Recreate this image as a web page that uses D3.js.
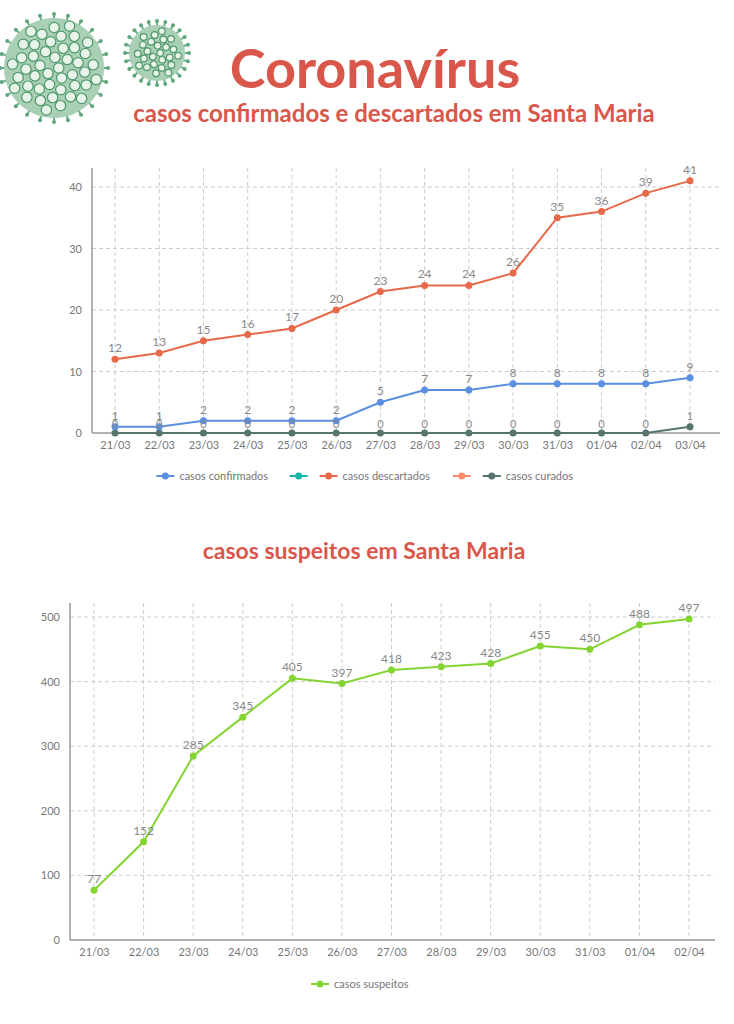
<!DOCTYPE html>
<html lang="pt">
<head>
<meta charset="UTF-8">
<title>Coronavírus Santa Maria</title>
<style>
  body { margin: 0; background: #fff; }
  text { font-family: Lato, "Open Sans", sans-serif; }
</style>
</head>
<body>
<script src="https://d3js.org/d3.v7.min.js"></script>
<div id="svg"></div>
<script>
// dados
const dias1 = ["21/03","22/03","23/03","24/03","25/03","26/03","27/03","28/03","29/03","30/03","31/03","01/04","02/04","03/04"];
const confirmados = [1,1,2,2,2,2,5,7,7,8,8,8,8,9];
const descartados = [12,13,15,16,17,20,23,24,24,26,35,36,39,41];
const curados = [0,0,0,0,0,0,0,0,0,0,0,0,0,1];
const ticks1 = [0,10,20,30,40];

const dias2 = ["21/03","22/03","23/03","24/03","25/03","26/03","27/03","28/03","29/03","30/03","31/03","01/04","02/04"];
const suspeitos = [77,152,285,345,405,397,418,423,428,455,450,488,497];
const ticks2 = [0,100,200,300,400,500];

const width = 734, height = 1024;
const svg = d3.select("#svg").append("svg").attr("width", width).attr("height", height);

// virus decorativos
function virus(cx, cy, r) {
  const g = svg.append("g").attr("transform", `translate(${cx},${cy})`);
  for (let a = 0; a < 360; a += 15) {
    const t = a * Math.PI / 180;
    g.append("line").attr("x1", 0).attr("y1", 0)
      .attr("x2", Math.cos(t) * (r + 4)).attr("y2", Math.sin(t) * (r + 4))
      .attr("stroke", "#6aae86").attr("stroke-width", 2);
    g.append("circle").attr("cx", Math.cos(t) * (r + 4)).attr("cy", Math.sin(t) * (r + 4))
      .attr("r", 2).attr("fill", "#5fa67c");
  }
  g.append("circle").attr("r", r).attr("fill", "#a9cfb4");
  const n = Math.round(r * 0.9);
  for (let i = 0; i < n; i++) {
    const rr = Math.sqrt((i + 0.5) / n) * (r - 5);
    const t = i * 2.39996;
    g.append("circle").attr("cx", Math.cos(t) * rr).attr("cy", Math.sin(t) * rr)
      .attr("r", r / 12 + 1).attr("fill", "#e8f3ea").attr("stroke", "#4f9a6c").attr("stroke-width", 1.2);
  }
}
virus(54, 68, 50);
virus(157, 53, 28);

svg.append("text").attr("x", 375).attr("y", 88).attr("text-anchor", "middle")
  .style("font-size", "54px").style("font-weight", "bold").attr("fill", "#d9574a").text("Coronavírus");
svg.append("text").attr("x", 394).attr("y", 122).attr("text-anchor", "middle")
  .style("font-size", "24px").style("font-weight", "bold").attr("fill", "#d9574a").text("casos confirmados e descartados em Santa Maria");

function grade(x, y, dias, ticks, left, right, top) {
  const g = svg.append("g");
  g.selectAll(".gy").data(ticks.slice(1)).enter().append("line")
    .attr("x1", left).attr("x2", right).attr("y1", d => y(d)).attr("y2", d => y(d))
    .attr("stroke", "#ccc").attr("stroke-dasharray", "4,3");
  g.selectAll(".gx").data(dias).enter().append("line")
    .attr("x1", d => x(d)).attr("x2", d => x(d)).attr("y1", top).attr("y2", y(0))
    .attr("stroke", "#ccc").attr("stroke-dasharray", "4,3");
  const ax = g.append("g").attr("transform", `translate(0,${y(0)})`)
    .call(d3.axisBottom(x).tickSize(0).tickPadding(8));
  ax.select(".domain").attr("d", `M${left},0H${right}`).attr("stroke", "#999").attr("stroke-width", 1.5);
  const ay = g.append("g").attr("transform", `translate(${left},0)`)
    .call(d3.axisLeft(y).tickValues(ticks).tickSize(0).tickPadding(10));
  ay.select(".domain").attr("d", `M0,${top}V${y(0)}`).attr("stroke", "#999").attr("stroke-width", 1.5);
  g.selectAll(".tick text").attr("fill", "#777").style("font-size", "11px").style("font-family", "Lato");
}

function serie(x, y, dias, vals, cor, labels) {
  const line = d3.line().x((d, i) => x(dias[i])).y(d => y(d));
  svg.append("path").attr("d", line(vals)).attr("fill", "none").attr("stroke", cor).attr("stroke-width", 2);
  svg.append("g").selectAll("circle").data(vals).enter().append("circle")
    .attr("cx", (d, i) => x(dias[i])).attr("cy", d => y(d)).attr("r", 3.5).attr("fill", cor);
  if (labels) svg.append("g").selectAll("text").data(vals).enter().append("text")
    .attr("x", (d, i) => x(dias[i])).attr("y", d => y(d) - 7).attr("text-anchor", "middle")
    .attr("fill", "#888").style("font-size", "12px").text(d => d);
}

function legenda(items, cx, y) {
  const g = svg.append("g");
  let w = 0;
  const pos = items.map(it => { const p = w; w += 26 + (it.nome ? it.nome.length * 5.6 + 12 : 4); return p; });
  const x0 = cx - w / 2;
  items.forEach((it, i) => {
    const x = x0 + pos[i];
    g.append("line").attr("x1", x).attr("x2", x + 18).attr("y1", y).attr("y2", y).attr("stroke", it.cor).attr("stroke-width", 2);
    g.append("circle").attr("cx", x + 9).attr("cy", y).attr("r", 3.5).attr("fill", it.cor);
    if (it.nome) g.append("text").attr("x", x + 23).attr("y", y + 4).attr("fill", "#777").style("font-size", "11px").text(it.nome);
  });
}

// grafico 1
const x1 = d3.scalePoint().domain(dias1).range([115, 690]);
const y1 = d3.scaleLinear().domain([0, 40]).range([433, 187]);
grade(x1, y1, dias1, ticks1, 92, 720, 168);
serie(x1, y1, dias1, curados, "#56756e", false);
serie(x1, y1, dias1, confirmados, "#5b8fe0", true);
serie(x1, y1, dias1, descartados, "#e8694a", true);
svg.append("g").selectAll("text").data(curados).enter().append("text")
  .attr("x", (d, i) => x1(dias1[i])).attr("y", d => y1(d) - (d ? 7 : 5)).attr("text-anchor", "middle")
  .attr("fill", "#888").style("font-size", "11px").text(d => d);
legenda([
  {nome: "casos confirmados", cor: "#5b8fe0"},
  {nome: "", cor: "#19b5a5"},
  {nome: "casos descartados", cor: "#e8694a"},
  {nome: "", cor: "#f98a6a"},
  {nome: "casos curados", cor: "#56756e"}
], 375, 476);

// grafico 2
svg.append("text").attr("x", 364).attr("y", 559).attr("text-anchor", "middle")
  .style("font-size", "23px").style("font-weight", "bold").attr("fill", "#d9574a").text("casos suspeitos  em Santa Maria");
const x2 = d3.scalePoint().domain(dias2).range([94, 689]);
const y2 = d3.scaleLinear().domain([0, 500]).range([940, 617]);
grade(x2, y2, dias2, ticks2, 70, 715, 603);
serie(x2, y2, dias2, suspeitos, "#84d432", true);
legenda([{nome: "casos suspeitos", cor: "#84d432"}], 372, 984);
</script>
</body>
</html>
